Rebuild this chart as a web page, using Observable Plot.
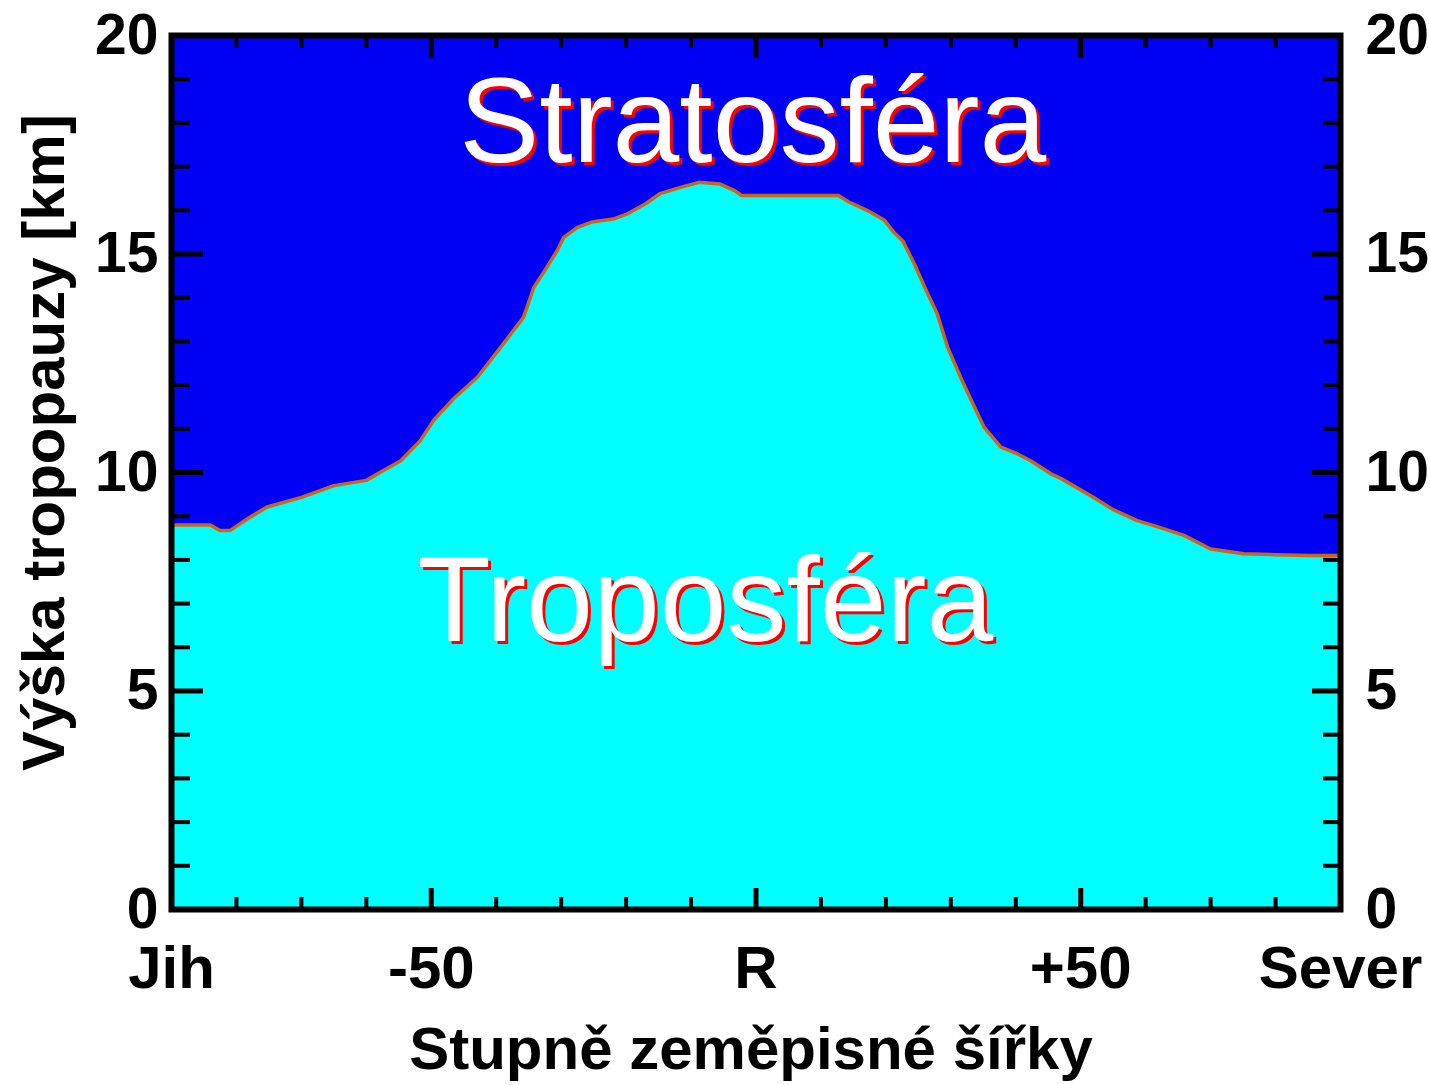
<!DOCTYPE html>
<html><head><meta charset="utf-8">
<script src="https://cdn.jsdelivr.net/npm/d3@7"></script>
<script src="https://cdn.jsdelivr.net/npm/@observablehq/plot@0.6"></script>
<style>body{margin:0;background:#fff}</style>
</head><body>
<div id="chart"></div>
<script>
const latitude = [-90, -84, -82.5, -81, -78.3, -75.3, -70, -65, -60, -57.3, -54.7, -51.7, -49.6, -46.5, -42.9, -39.3, -35.8, -34.2, -32.7, -30.6, -29.6, -27.5, -25.3, -22, -19.8, -17, -14.8, -11.5, -8.8, -5.5, -3.3, -2.2, 3.3, 12.7, 14.3, 17.1, 19.8, 21.2, 22.6, 24.3, 26.4, 27.9, 29.5, 31.5, 33, 35.1, 37.7, 40.2, 42.3, 45.4, 47, 52, 55, 58.7, 62, 65.9, 70, 75.1, 80, 85, 90];
const tropopauseKm = [8.8, 8.8, 8.67, 8.67, 8.94, 9.21, 9.43, 9.7, 9.82, 10.05, 10.27, 10.73, 11.2, 11.7, 12.18, 12.87, 13.55, 14.24, 14.58, 15.08, 15.38, 15.61, 15.73, 15.8, 15.92, 16.15, 16.38, 16.53, 16.64, 16.6, 16.45, 16.34, 16.34, 16.34, 16.19, 16.0, 15.77, 15.5, 15.3, 14.8, 14.1, 13.63, 12.87, 12.18, 11.7, 11.04, 10.58, 10.43, 10.27, 9.97, 9.86, 9.43, 9.15, 8.9, 8.75, 8.56, 8.25, 8.14, 8.12, 8.1, 8.1];

const xMinorTicks = [-80, -70, -60, -40, -30, -20, -10, 10, 20, 30, 40, 60, 70, 80];
const xMajorTicks = [-50, 0, 50];
const xLabelTicks = [-90, -50, 0, 50, 90];
const xLabels = ["Jih", "-50", "R", "+50", "Sever"];
const yMinorTicks = [1, 2, 3, 4, 6, 7, 8, 9, 11, 12, 13, 14, 16, 17, 18, 19];
const yMajorTicks = [5, 10, 15];
const yLabelTicks = [0, 5, 10, 15, 20];

const layerNames = ["Stratosféra", "Troposféra"];
const layerLat = [-0.5, -7.8];
const layerKm = [17.1, 6.15];

const xTitle = "Stupně zeměpisné šířky";
const yTitle = "Výška tropopauzy [km]";

const profile = latitude.map((lat, i) => ({lat, km: tropopauseKm[i]}));
const layers = layerNames.map((name, i) => ({name, lat: layerLat[i], km: layerKm[i]}));

const W = 1430, H = 1085, mL = 171, mR = 90, mT = 35, mB = 176;
const iW = W - mL - mR, iH = H - mT - mB;

const chart = Plot.plot({
  width: W, height: H,
  marginLeft: mL, marginRight: mR, marginTop: mT, marginBottom: mB,
  style: {fontFamily: "'Liberation Sans', Arial, sans-serif", background: "white", color: "black"},
  x: {domain: [-90, 90]},
  y: {domain: [0, 20]},
  marks: [
    Plot.frame({fill: "#0000f5", stroke: "none"}),
    Plot.areaY(profile, {x: "lat", y: "km", fill: "#00ffff"}),
    Plot.line(profile, {x: "lat", y: "km", stroke: "#c8661c", strokeWidth: 3.5}),
    // inward ticks
    Plot.tickX(xMinorTicks, {x: d => d, insetTop: iH - 12, stroke: "black", strokeWidth: 4}),
    Plot.tickX(xMajorTicks, {x: d => d, insetTop: iH - 21, stroke: "black", strokeWidth: 5}),
    Plot.tickX(xMinorTicks, {x: d => d, insetBottom: iH - 13, stroke: "black", strokeWidth: 4}),
    Plot.tickX(xMajorTicks, {x: d => d, insetBottom: iH - 23, stroke: "black", strokeWidth: 5}),
    Plot.tickY(yMinorTicks, {y: d => d, insetRight: iW - 19, stroke: "black", strokeWidth: 4}),
    Plot.tickY(yMajorTicks, {y: d => d, insetRight: iW - 32, stroke: "black", strokeWidth: 5}),
    Plot.tickY(yMinorTicks, {y: d => d, insetLeft: iW - 17, stroke: "black", strokeWidth: 4}),
    Plot.tickY(yMajorTicks, {y: d => d, insetLeft: iW - 28, stroke: "black", strokeWidth: 5}),
    Plot.frame({stroke: "black", strokeWidth: 6}),
    // layer names: red shadow copy, then white text on top
    Plot.text(layers, {x: "lat", y: "km", text: "name", fontSize: 120, fill: "#ff0000", dx: 3, dy: 3, lineAnchor: "bottom", textAnchor: "middle"}),
    Plot.text(layers, {x: "lat", y: "km", text: "name", fontSize: 120, fill: "white", lineAnchor: "bottom", textAnchor: "middle"}),
    // axes
    Plot.axisX({anchor: "bottom", ticks: xLabelTicks, tickFormat: d => xLabels[xLabelTicks.indexOf(d)], tickSize: 0, tickPadding: 36, fontSize: 60, fontWeight: "bold", label: null}),
    Plot.axisY({anchor: "left", ticks: yLabelTicks, tickSize: 0, tickPadding: 13, fontSize: 57, fontWeight: "bold", label: null}),
    Plot.axisY({anchor: "right", ticks: yLabelTicks, tickSize: 0, tickPadding: 25, fontSize: 57, fontWeight: "bold", label: null}),
    Plot.text([xTitle], {text: d => d, frameAnchor: "bottom", dy: 159, dx: -5, fontSize: 60, fontWeight: "bold", lineAnchor: "bottom", textAnchor: "middle"}),
    Plot.text([yTitle], {text: d => d, frameAnchor: "left", rotate: -90, dx: -127, dy: -30, fontSize: 60, fontWeight: "bold", lineAnchor: "middle", textAnchor: "middle"})
  ]
});
document.getElementById("chart").appendChild(chart);
</script>
</body></html>
